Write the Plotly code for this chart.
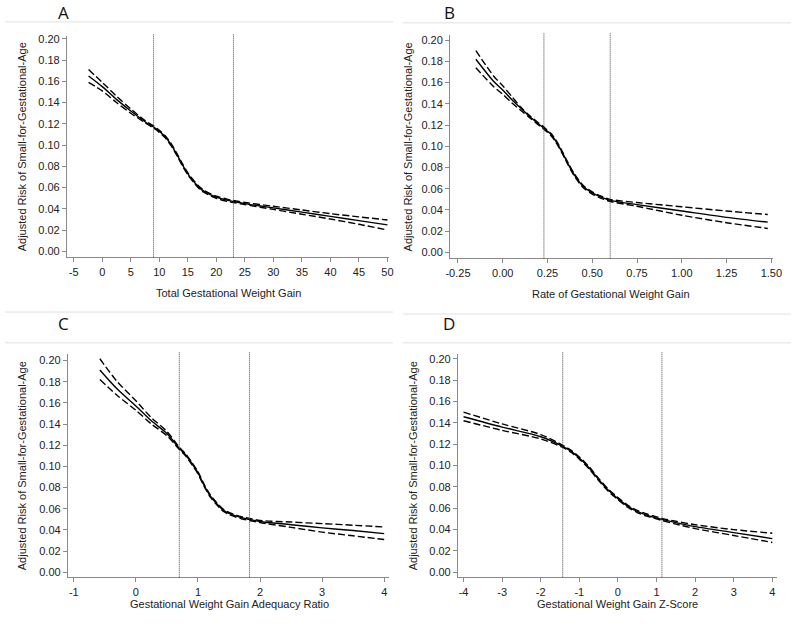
import plotly.graph_objects as go

# ---------------- data ----------------
a_x = [-2.4, 0, 2.5, 5, 7.5, 9, 10, 11, 12, 13, 14, 15, 16, 17, 18, 20, 22, 23, 25, 30, 35, 40, 45, 50]
a_mid = [0.165, 0.155, 0.143, 0.132, 0.122, 0.117, 0.113, 0.108, 0.101, 0.092, 0.082, 0.073, 0.066, 0.060, 0.056, 0.051, 0.048, 0.047, 0.045, 0.041, 0.037, 0.033, 0.029, 0.025]
a_hi = [0.171, 0.159, 0.146, 0.134, 0.123, 0.118, 0.114, 0.109, 0.102, 0.093, 0.083, 0.074, 0.067, 0.061, 0.057, 0.052, 0.049, 0.048, 0.046, 0.0425, 0.039, 0.0355, 0.0325, 0.0296]
a_lo = [0.159, 0.151, 0.140, 0.130, 0.121, 0.116, 0.112, 0.107, 0.100, 0.091, 0.081, 0.072, 0.065, 0.059, 0.055, 0.050, 0.047, 0.046, 0.044, 0.0395, 0.035, 0.0305, 0.0255, 0.0202]
a_cut = [9, 23]

b_x = [-0.15, -0.05, 0.0, 0.05, 0.10, 0.15, 0.20, 0.23, 0.27, 0.30, 0.33, 0.36, 0.40, 0.45, 0.50, 0.55, 0.60, 0.75, 1.00, 1.25, 1.48]
b_mid = [0.182, 0.161, 0.153, 0.144, 0.136, 0.128, 0.121, 0.117, 0.111, 0.104, 0.095, 0.085, 0.073, 0.062, 0.056, 0.052, 0.049, 0.045, 0.039, 0.033, 0.0285]
b_hi = [0.190, 0.166, 0.157, 0.147, 0.137, 0.129, 0.122, 0.118, 0.112, 0.105, 0.096, 0.086, 0.074, 0.063, 0.057, 0.053, 0.050, 0.047, 0.043, 0.039, 0.0357]
b_lo = [0.174, 0.156, 0.149, 0.141, 0.134, 0.127, 0.120, 0.116, 0.110, 0.103, 0.094, 0.084, 0.072, 0.061, 0.055, 0.051, 0.048, 0.0435, 0.035, 0.028, 0.0226]
b_cut = [0.23, 0.60]

c_x = [-0.58, -0.3, 0, 0.25, 0.5, 0.7, 0.8, 0.9, 1.0, 1.1, 1.2, 1.3, 1.4, 1.5, 1.7, 1.83, 2.0, 2.5, 3.0, 3.5, 4.0]
c_mid = [0.191, 0.173, 0.157, 0.143, 0.131, 0.117, 0.111, 0.103, 0.094, 0.082, 0.072, 0.065, 0.059, 0.0556, 0.0516, 0.050, 0.048, 0.045, 0.042, 0.0395, 0.0366]
c_hi = [0.2016, 0.180, 0.162, 0.146, 0.133, 0.118, 0.112, 0.104, 0.095, 0.083, 0.073, 0.066, 0.060, 0.0566, 0.0526, 0.051, 0.049, 0.0475, 0.046, 0.0445, 0.0428]
c_lo = [0.182, 0.167, 0.153, 0.140, 0.129, 0.116, 0.110, 0.102, 0.093, 0.081, 0.071, 0.064, 0.058, 0.0546, 0.0506, 0.049, 0.047, 0.0425, 0.038, 0.0345, 0.031]
c_cut = [0.70, 1.83]

d_x = [-4, -3, -2, -1.43, -1.2, -1, -0.75, -0.5, -0.25, 0, 0.25, 0.5, 0.75, 1.14, 1.5, 2, 3, 4]
d_mid = [0.1457, 0.136, 0.127, 0.118, 0.113, 0.107, 0.098, 0.087, 0.077, 0.069, 0.062, 0.057, 0.0536, 0.0496, 0.0465, 0.0428, 0.0372, 0.0316]
d_hi = [0.150, 0.139, 0.129, 0.119, 0.114, 0.108, 0.099, 0.088, 0.078, 0.070, 0.063, 0.058, 0.0546, 0.0506, 0.0478, 0.0446, 0.040, 0.0366]
d_lo = [0.142, 0.133, 0.125, 0.117, 0.112, 0.106, 0.097, 0.086, 0.076, 0.068, 0.061, 0.056, 0.0526, 0.0486, 0.0452, 0.041, 0.0345, 0.028]
d_cut = [-1.43, 1.14]

y_ticks = [0.00, 0.02, 0.04, 0.06, 0.08, 0.10, 0.12, 0.14, 0.16, 0.18, 0.20]
y_tick_text = ["0.00", "0.02", "0.04", "0.06", "0.08", "0.10", "0.12", "0.14", "0.16", "0.18", "0.20"]

a_ticks = [-5, 0, 5, 10, 15, 20, 25, 30, 35, 40, 45, 50]
a_tick_text = ["-5", "0", "5", "10", "15", "20", "25", "30", "35", "40", "45", "50"]
b_ticks = [-0.25, 0.0, 0.25, 0.5, 0.75, 1.0, 1.25, 1.5]
b_tick_text = ["-0.25", "0.00", "0.25", "0.50", "0.75", "1.00", "1.25", "1.50"]
c_ticks = [-1, 0, 1, 2, 3, 4]
c_tick_text = ["-1", "0", "1", "2", "3", "4"]
d_ticks = [-4, -3, -2, -1, 0, 1, 2, 3, 4]
d_tick_text = ["-4", "-3", "-2", "-1", "0", "1", "2", "3", "4"]

panel_letters = ["A", "B", "C", "D"]
x_titles = ["Total Gestational Weight Gain", "Rate of Gestational Weight Gain",
            "Gestational Weight Gain Adequacy Ratio", "Gestational Weight Gain Z-Score"]
y_title = "Adjusted Risk of Small-for-Gestational-Age"

# ---------------- layout geometry ----------------
W, H = 800, 634
FONT = "Liberation Sans, Arial, sans-serif"
AX = "#8a8a8a"
TXT = "#222222"

panels = [
    dict(x=a_x, mid=a_mid, hi=a_hi, lo=a_lo, cut=a_cut, tv=a_ticks, tt=a_tick_text,
         left=63, right=391, top=33, bottom=256, xr=[-6.2, 50.3], yr=[-0.0056, 0.2028],
         ytitle_x=17, xtitle_x=227, xtitle_y=292, lab_x=60, lab_y=10),
    dict(x=b_x, mid=b_mid, hi=b_hi, lo=b_lo, cut=b_cut, tv=b_ticks, tt=b_tick_text,
         left=453, right=782, top=32, bottom=257, xr=[-0.294, 1.511], yr=[-0.0056, 0.205],
         ytitle_x=410, xtitle_x=617, xtitle_y=293, lab_x=452, lab_y=10),
    dict(x=c_x, mid=c_mid, hi=c_hi, lo=c_lo, cut=c_cut, tv=c_ticks, tt=c_tick_text,
         left=64, right=391, top=353, bottom=578, xr=[-1.095, 4.08], yr=[-0.0047, 0.2063],
         ytitle_x=17, xtitle_x=228, xtitle_y=605, lab_x=60, lab_y=323),
    dict(x=d_x, mid=d_mid, hi=d_hi, lo=d_lo, cut=d_cut, tv=d_ticks, tt=d_tick_text,
         left=461, right=786, top=353, bottom=578, xr=[-4.145, 4.127], yr=[-0.0047, 0.2047],
         ytitle_x=415, xtitle_x=623, xtitle_y=605, lab_x=452, lab_y=323),
]

fig = go.Figure()
layout = dict(width=W, height=H, margin=dict(l=0, r=0, t=0, b=0),
              paper_bgcolor="white", plot_bgcolor="white", showlegend=False,
              font=dict(family=FONT, size=11, color=TXT))
shapes = []
annotations = []

for i, p in enumerate(panels):
    n = i + 1
    xa = "x" if n == 1 else f"x{n}"
    ya = "y" if n == 1 else f"y{n}"
    for arr, dash in [(p["hi"], "7px,3px"), (p["lo"], "7px,3px"), (p["mid"], "solid")]:
        fig.add_trace(go.Scatter(x=p["x"], y=arr, mode="lines", xaxis=xa, yaxis=ya,
                                 line=dict(color="black", width=1.4, dash=dash, shape="spline", smoothing=0.8),
                                 hoverinfo="skip"))
    axcommon = dict(showgrid=False, zeroline=False, showline=True, linecolor=AX, linewidth=1,
                    ticks="outside", ticklen=4, tickcolor=AX,
                    tickfont=dict(family=FONT, size=11, color=TXT))
    layout["xaxis" if n == 1 else f"xaxis{n}"] = dict(
        domain=[p["left"] / W, p["right"] / W], anchor=ya, range=p["xr"],
        tickvals=p["tv"], ticktext=p["tt"], **axcommon)
    layout["yaxis" if n == 1 else f"yaxis{n}"] = dict(
        domain=[1 - p["bottom"] / H, 1 - p["top"] / H], anchor=xa, range=p["yr"],
        tickvals=y_ticks, ticktext=y_tick_text, **axcommon)
    for c in p["cut"]:
        shapes.append(dict(type="line", xref=xa, yref=f"{ya} domain", x0=c, x1=c, y0=0, y1=1.01,
                           line=dict(color="#444444", width=1, dash="1px,1px")))
    annotations.append(dict(text=y_title, xref="paper", yref="paper",
                            x=p["ytitle_x"] / W, y=1 - ((p["top"] + p["bottom"]) / 2) / H,
                            textangle=-90, showarrow=False, xanchor="center", yanchor="middle",
                            font=dict(family=FONT, size=11, color=TXT)))
    annotations.append(dict(text=x_titles[i], xref="paper", yref="paper",
                            x=p["xtitle_x"] / W, y=1 - p["xtitle_y"] / H, showarrow=False,
                            xanchor="center", yanchor="middle",
                            font=dict(family=FONT, size=11, color=TXT)))
    annotations.append(dict(text=panel_letters[i], xref="paper", yref="paper",
                            x=p["lab_x"] / W, y=1 - p["lab_y"] / H, showarrow=False,
                            xanchor="center", yanchor="middle",
                            font=dict(family="Open Sans, sans-serif", size=17, color="#111")))

# light frame lines separating the panels
for y0, x0, x1 in [(19, 0, 395), (20, 405, 800), (311, 0, 395), (313, 405, 800),
                   (342, 0, 395), (342, 405, 800)]:
    shapes.append(dict(type="line", xref="paper", yref="paper", x0=x0 / W, x1=x1 / W,
                       y0=1 - y0 / H, y1=1 - y0 / H, line=dict(color="#e0e0e0", width=1)))

layout["shapes"] = shapes
layout["annotations"] = annotations
fig.update_layout(**layout)
fig.write_html("out.html", config={"displayModeBar": False},
               post_script="document.body.style.margin='0';document.body.style.padding='0';")
